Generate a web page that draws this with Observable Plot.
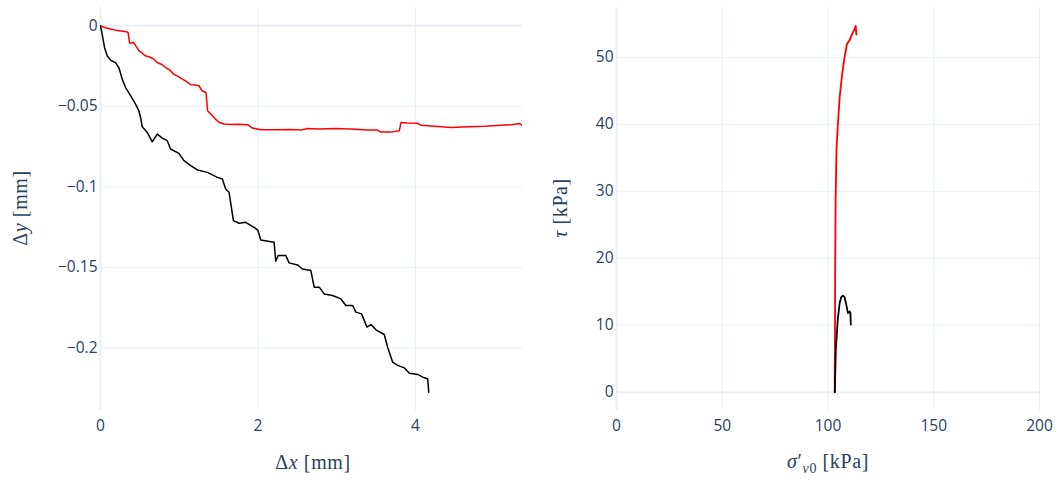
<!DOCTYPE html>
<html><head><meta charset="utf-8">
<script src="https://cdn.jsdelivr.net/npm/d3@7"></script>
<script src="https://cdn.jsdelivr.net/npm/@observablehq/plot@0.6"></script>
<style>
body{margin:0;background:#fff;}
#wrap{position:relative;width:1059px;height:481px;overflow:hidden;background:#fff;}
#left{position:absolute;left:0;top:0;}
#right{position:absolute;left:540px;top:0;}
</style></head><body><div id="wrap"><div id="left"></div><div id="right"></div></div>
<script>
// ---- Left panel data: Δx [mm] vs Δy [mm]
const leftRedDx = [0, 0.06, 0.13, 0.2, 0.26, 0.33, 0.35, 0.37, 0.42, 0.49, 0.53, 0.57, 0.63, 0.68, 0.72, 0.78, 0.83, 0.88, 0.93, 0.99, 1.04, 1.09, 1.15, 1.2, 1.25, 1.29, 1.34, 1.36, 1.40, 1.46, 1.51, 1.57, 1.65, 1.75, 1.87, 1.93, 2.04, 2.2, 2.42, 2.55, 2.63, 2.76, 2.97, 3.18, 3.39, 3.52, 3.56, 3.69, 3.795, 3.817, 3.9, 4.03, 4.07, 4.24, 4.45, 4.67, 4.88, 5.09, 5.22, 5.32, 5.36];
const leftRedDy = [0, -0.0012, -0.002, -0.0028, -0.0032, -0.0037, -0.0041, -0.0107, -0.0103, -0.0155, -0.017, -0.0186, -0.0195, -0.0207, -0.0228, -0.024, -0.0259, -0.0275, -0.030, -0.0315, -0.0331, -0.0345, -0.0366, -0.0368, -0.0372, -0.0403, -0.0414, -0.0527, -0.0548, -0.0579, -0.060, -0.061, -0.0612, -0.0611, -0.0614, -0.0635, -0.0645, -0.0645, -0.0643, -0.0647, -0.0637, -0.0641, -0.0638, -0.0641, -0.0647, -0.0647, -0.066, -0.066, -0.0652, -0.060, -0.0604, -0.0605, -0.0618, -0.0624, -0.0631, -0.0627, -0.0624, -0.0618, -0.0614, -0.0606, -0.062];
const leftBlackDx = [0, 0.021, 0.051, 0.085, 0.127, 0.19, 0.233, 0.276, 0.318, 0.382, 0.445, 0.487, 0.509, 0.53, 0.594, 0.657, 0.721, 0.785, 0.848, 0.89, 0.996, 1.06, 1.145, 1.23, 1.357, 1.485, 1.548, 1.59, 1.633, 1.688, 1.76, 1.845, 1.96, 2.0, 2.035, 2.205, 2.226, 2.256, 2.354, 2.396, 2.502, 2.566, 2.672, 2.714, 2.778, 2.841, 2.948, 3.053, 3.117, 3.202, 3.244, 3.316, 3.384, 3.435, 3.499, 3.604, 3.647, 3.711, 3.775, 3.859, 3.923, 4.029, 4.093, 4.156, 4.169];
const leftBlackDy = [0, -0.0052, -0.0134, -0.0186, -0.0213, -0.0228, -0.0259, -0.0331, -0.0383, -0.0434, -0.0486, -0.0527, -0.0569, -0.0627, -0.0662, -0.072, -0.0672, -0.0697, -0.0713, -0.0765, -0.0792, -0.0837, -0.0868, -0.0895, -0.091, -0.0941, -0.0951, -0.1013, -0.1034, -0.121, -0.1226, -0.122, -0.1255, -0.127, -0.133, -0.1344, -0.1462, -0.1427, -0.1427, -0.1472, -0.1485, -0.151, -0.152, -0.1623, -0.1623, -0.1665, -0.1675, -0.1696, -0.1737, -0.1737, -0.1778, -0.1789, -0.1871, -0.1855, -0.1888, -0.1917, -0.1996, -0.2089, -0.2109, -0.2124, -0.2157, -0.2165, -0.2182, -0.2192, -0.2275];
const leftXTicks = [0, 2, 4];
const leftXLabels = ["0", "2", "4"];
const leftYTicks = [0, -0.05, -0.1, -0.15, -0.2];
const leftYLabels = ["0", "\u22120.05", "\u22120.1", "\u22120.15", "\u22120.2"];

// ---- Right panel data: σ'v0 [kPa] vs τ [kPa]
const rightRedSigma = [103.2, 103.2, 103.3, 103.4, 103.6, 104.0, 104.6, 105.5, 106.7, 107.8, 109.0, 110.3, 111.4, 112.3, 113.1, 113.4];
const rightRedTau   = [0, 4, 8.8, 18.8, 28.7, 36.1, 39.6, 44.0, 47.5, 50.0, 52.0, 52.6, 53.5, 54.0, 54.7, 53.4];
const rightBlackSigma = [103.2, 103.7, 104.6, 105.5, 106.3, 107.0, 107.8, 108.7, 109.4, 110.3, 110.6, 110.8];
const rightBlackTau   = [0, 6.3, 10.8, 13.3, 14.2, 14.4, 14.2, 13.0, 11.8, 12.05, 11.8, 10.1];
const rightXTicks = [0, 50, 100, 150, 200];
const rightXLabels = ["0", "50", "100", "150", "200"];
const rightYTicks = [0, 10, 20, 30, 40, 50];
const rightYLabels = ["0", "10", "20", "30", "40", "50"];

const GRID = "#ebf0f8", INK = "#2a3f5f";
const zip = (xs, ys) => xs.map((x, i) => ({x, y: ys[i]}));

function panel({width, ml, mr, xDomain, yDomain, xTicks, xLabels, yTicks, yLabels, series, sw}) {
  return Plot.plot({
    width, height: 481, marginLeft: ml, marginRight: mr, marginTop: 7, marginBottom: 71,
    style: {fontFamily: "'Open Sans', sans-serif", fontSize: "15.5px", color: INK, background: "white", overflow: "visible"},
    x: {domain: xDomain, ticks: xTicks, tickFormat: d => xLabels[xTicks.indexOf(d)], tickSize: 0, tickPadding: 9, label: null},
    y: {domain: yDomain, ticks: yTicks, tickFormat: d => yLabels[yTicks.indexOf(d)], tickSize: 0, tickPadding: 3, label: null},
    marks: [
      Plot.ruleX(xTicks, {stroke: GRID, strokeWidth: 1}),
      Plot.ruleY(yTicks, {stroke: GRID, strokeWidth: 1}),
      Plot.ruleX([0], {stroke: GRID, strokeWidth: 2}),
      Plot.ruleY([0], {stroke: GRID, strokeWidth: 2}),
      ...series.map(s => Plot.line(zip(s.x, s.y), {x: "x", y: "y", stroke: s.color, strokeWidth: sw, clip: true, strokeLinejoin: "round"}))
    ]
  });
}

const left = panel({
  width: 540, ml: 100, mr: 18,
  xDomain: [0, 5.36], yDomain: [-0.2389, 0.0114],
  xTicks: leftXTicks, xLabels: leftXLabels, yTicks: leftYTicks, yLabels: leftYLabels,
  series: [{x: leftRedDx, y: leftRedDy, color: "#ff0000"}, {x: leftBlackDx, y: leftBlackDy, color: "#000000"}],
  sw: 1.5
});
const right = panel({
  width: 519, ml: 76, mr: 20,
  xDomain: [0, 200], yDomain: [-2.735, 57.435],
  xTicks: rightXTicks, xLabels: rightXLabels, yTicks: rightYTicks, yLabels: rightYLabels,
  series: [{x: rightRedSigma, y: rightRedTau, color: "#ff0000"}, {x: rightBlackSigma, y: rightBlackTau, color: "#000000"}],
  sw: 1.8
});
document.getElementById("left").appendChild(left);
document.getElementById("right").appendChild(right);

const SERIF = "'Liberation Serif', 'DejaVu Serif', serif";
function title(svg, x, y, rotate, parts) {
  const t = d3.select(svg).append("text")
    .attr("text-anchor", "middle").attr("fill", INK)
    .attr("font-family", SERIF).attr("font-size", 20).attr("letter-spacing", 0.6)
    .attr("transform", `translate(${x},${y})` + (rotate ? " rotate(-90)" : ""));
  for (const p of parts) {
    const s = t.append("tspan").text(p.t);
    if (p.i) s.attr("font-style", "italic");
    if (p.sub) s.attr("font-size", 14);
    if (p.dy !== undefined) s.attr("dy", p.dy);
  }
}
title(left, 313, 469, false, [{t: "Δ"}, {t: "x", i: true}, {t: " [mm]"}]);
title(left, 27, 208, true, [{t: "Δ"}, {t: "y", i: true}, {t: " [mm]"}]);
title(right, 288, 468, false, [{t: "σ", i: true}, {t: "′"}, {t: "v", i: true, sub: true, dy: 5}, {t: "0", sub: true}, {t: " [kPa]", dy: -5}]);
title(right, 27, 208, true, [{t: "τ", i: true}, {t: " [kPa]"}]);
</script></body></html>
